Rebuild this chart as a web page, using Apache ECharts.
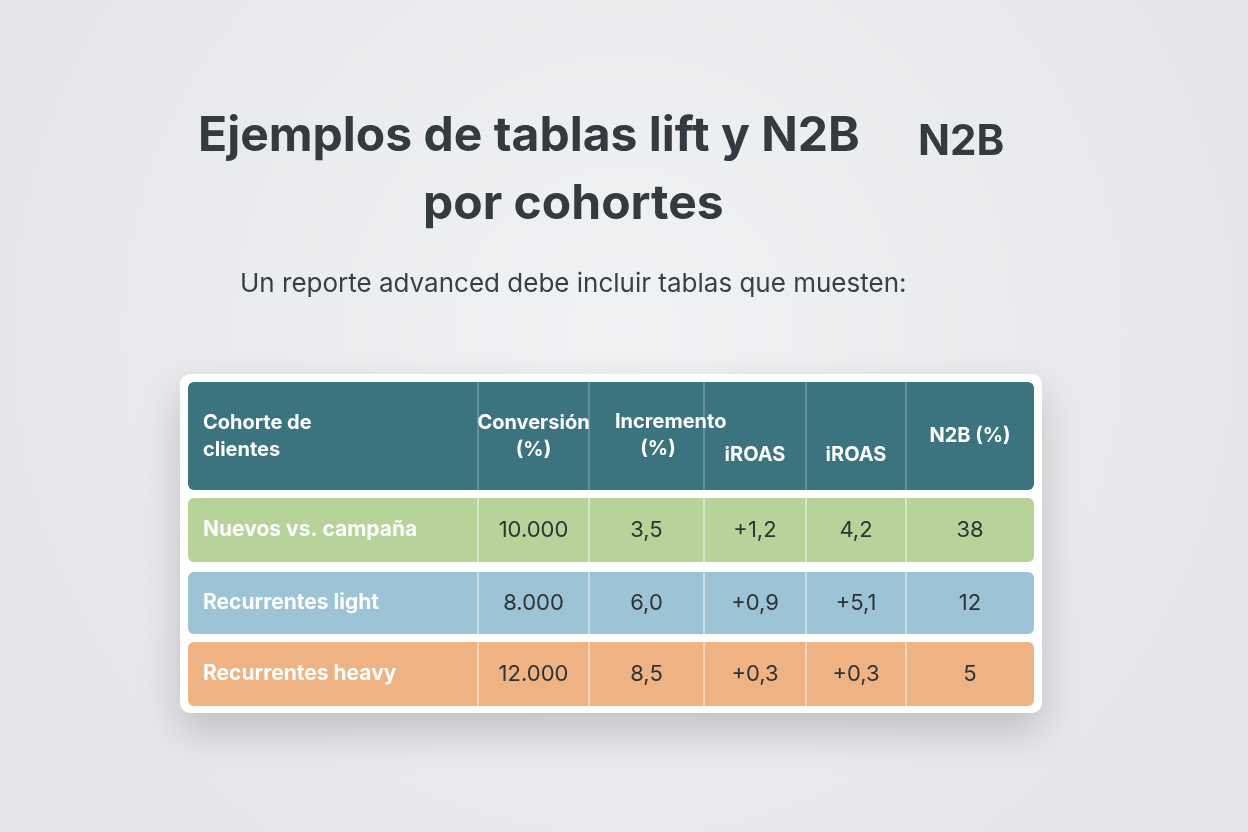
<!DOCTYPE html>
<html><head><meta charset="utf-8">
<script src="https://cdn.jsdelivr.net/npm/echarts@6/dist/echarts.min.js"></script>
<style>html,body{margin:0;padding:0;background:#eceef0}#c{width:1248px;height:832px}</style>
</head><body><div id="c"></div>
<script>
const headers = ["Cohorte de\nclientes","Conversión\n(%)","Incremento\n(%)","iROAS","iROAS","N2B (%)"];
const cohorts = ["Nuevos vs. campaña","Recurrentes light","Recurrentes heavy"];
const conversion = ["10.000","8.000","12.000"];
const incremento = ["3,5","6,0","8,5"];
const iroasA = ["+1,2","+0,9","+0,3"];
const iroasB = ["4,2","+5,1","+0,3"];
const n2b = ["38","12","5"];
const rowColors = ["#b7d39a","#9cc3d6","#eeb283"];

// layout (pixel-space of the grid)
const colEdges = [0,290,401,516,618,718,846];
const rowBands = [[0,108],[116,180],[190,252],[260,324]];

const rows = cohorts.map((c,i)=>[c,conversion[i],incremento[i],iroasA[i],iroasB[i],n2b[i]]);
const data = [];
for (let r=0;r<=rows.length;r++) for (let c=0;c<6;c++) data.push([c,r]);

const chart = echarts.init(document.getElementById('c'));
const font = '"Inter","Roboto",sans-serif';
chart.setOption({
  backgroundColor: {type:'radial',x:0.5,y:0.4,r:0.8,colorStops:[{offset:0,color:'#f1f2f4'},{offset:1,color:'#e4e6e9'}]},
  graphic: [
    {type:'text',left:198,top:113,style:{text:'Ejemplos de tablas lift y N2B',font:'bold 48px '+font,fill:'#333a40'}},
    {type:'text',left:918,top:121,style:{text:'N2B',font:'bold 42px '+font,fill:'#333a40'}},
    {type:'text',left:423,top:181,style:{text:'por cohortes',font:'bold 48px '+font,fill:'#333a40'}},
    {type:'text',left:240,top:271,style:{text:'Un reporte advanced debe incluir tablas que muesten:',font:'26px '+font,fill:'#3a3f44'}},
    {type:'rect',shape:{x:180,y:374,width:862,height:339,r:10},style:{fill:'#ffffff',shadowBlur:40,shadowOffsetY:18,shadowColor:'rgba(0,0,0,0.18)'},z:-1}
  ],
  grid:{left:188,right:214,top:382,bottom:126},
  xAxis:{type:'value',min:0,max:846,show:false},
  yAxis:{type:'value',min:0,max:324,inverse:true,show:false},
  series:[{
    type:'custom',
    data:data,
    renderItem:function(params,api){
      const c=api.value(0), r=api.value(1);
      const p0=api.coord([colEdges[c],rowBands[r][0]]);
      const p1=api.coord([colEdges[c+1],rowBands[r][1]]);
      const x=p0[0], y=p0[1], w=p1[0]-p0[0], h=p1[1]-p0[1];
      const children=[];
      let rad=[0,0,0,0];
      if(c===0) rad=[6,0,0,6]; else if(c===5) rad=[0,6,6,0];
      const fill = r===0 ? '#3b737f' : rowColors[r-1];
      children.push({type:'rect',shape:{x:x,y:y,width:w,height:h,r:rad},style:{fill:fill},z2:0});
      if(c>0) children.push({type:'line',shape:{x1:x,y1:y,x2:x,y2:y+h},style:{stroke:r===0?'rgba(255,255,255,0.4)':'rgba(255,255,255,0.85)',lineWidth:1},z2:1});
      if(r===0){
        let tx=x+w/2, ty=y+h/2, align='center';
        if(c===0){tx=x+15;align='left';}
        if(c===3||c===4){ty=y+h/2+19;}
        if(c===2){
          children.push({type:'text',z2:10,style:{text:'Incremento',x:x+26,y:y+h/2-14,align:'left',verticalAlign:'middle',font:'bold 20px '+font,fill:'#fff'}});
          children.push({type:'text',z2:10,style:{text:'(%)',x:x+69,y:y+h/2+13,align:'center',verticalAlign:'middle',font:'bold 20px '+font,fill:'#fff'}});
        } else {
          children.push({type:'text',z2:10,style:{text:headers[c],x:tx,y:ty,align:align,verticalAlign:'middle',lineHeight:27,font:'bold 20px '+font,fill:'#fff'}});
        }
      } else {
        const v=rows[r-1][c];
        if(c===0) children.push({type:'text',z2:10,style:{text:v,x:x+15,y:y+h/2,align:'left',verticalAlign:'middle',font:'bold 21px '+font,fill:'#fff'}});
        else children.push({type:'text',z2:10,style:{text:v,x:x+w/2,y:y+h/2,align:'center',verticalAlign:'middle',font:'22px '+font,fill:'#2f3336'}});
      }
      return {type:'group',children:children};
    }
  }]
});
</script></body></html>
